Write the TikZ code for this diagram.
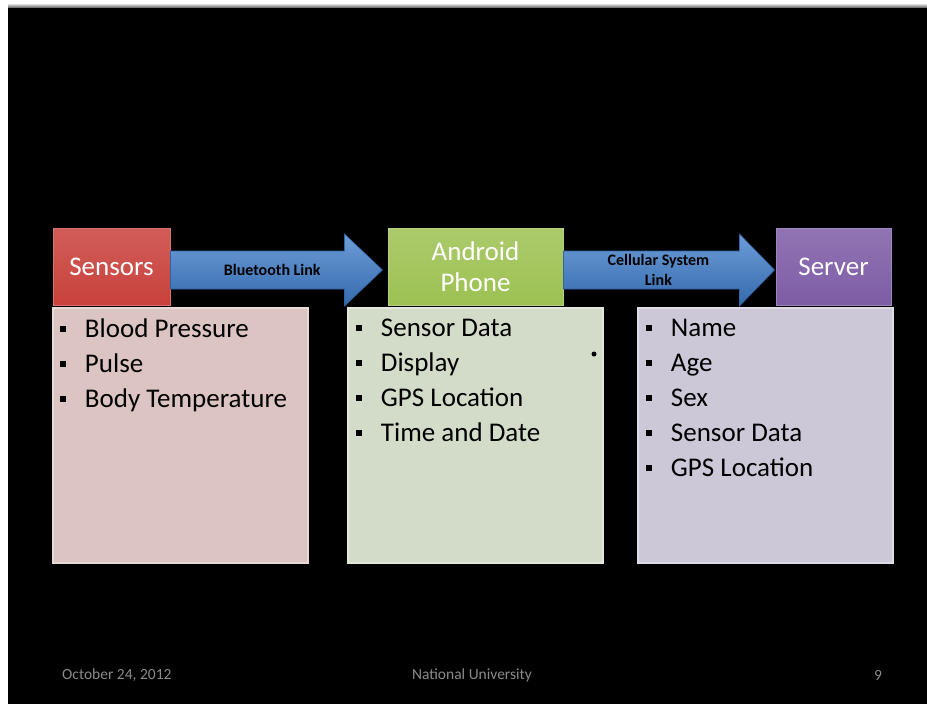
\documentclass[tikz,border=0pt]{standalone}
\usepackage{fontspec}
\setmainfont{Carlito}
\usepackage{xcolor}
\definecolor{SLIDEfoot}{HTML}{8A8A8A}
\definecolor{SLIDEred}{HTML}{C9413C}
\definecolor{SLIDEredbox}{HTML}{DCC4C2}
\definecolor{SLIDEgreen}{HTML}{9DC152}
\definecolor{SLIDEgreenbox}{HTML}{D3DCC8}
\definecolor{SLIDEpurple}{HTML}{7E5CA6}
\definecolor{SLIDEpurplebox}{HTML}{CCC8D8}
\definecolor{SLIDEblue}{HTML}{3D7CCB}
\usepackage{tikz}
\usetikzlibrary{calc, positioning}

\newcommand{\sqbul}{\rule[0.2em]{6pt}{6pt}\hspace{19pt}}

\begin{document}
\begin{tikzpicture}[x=1pt, y=-1pt,
  header/.style={minimum height=77pt, inner sep=0pt, align=center,
    text=white, font=\fontsize{27}{31}\selectfont,
    draw=#1!75!white, line width=1pt, top color=#1!85!white, bottom color=#1},
  listbox/.style={minimum width=255pt, minimum height=255pt, inner sep=0pt,
    fill=#1, draw=#1!65!white, line width=2.5pt},
  listtext/.style={anchor=north west, inner sep=0pt, align=left,
    font=\fontsize{27}{35}\selectfont},
  linkarrow/.style={top color=SLIDEblue!75!white, bottom color=SLIDEblue!85!black,
    draw=SLIDEblue!80!black, line width=0.6pt},
  linklabel/.style={inner sep=0pt, align=center,
    font=\fontsize{16}{20}\selectfont\bfseries},
  foot/.style={inner sep=0pt, text=SLIDEfoot, font=\fontsize{15.5}{17}\selectfont}]
% Slide background
\useasboundingbox (0,0) rectangle (927,704);
\fill[white] (0,0) rectangle (927,704);
\fill[black] (8,7) rectangle (927,704);
\shade[top color=gray!40, bottom color=gray!80!black] (8,4.5) rectangle (927,7.5);
% Headers
\node[header=SLIDEred, minimum width=117pt] (sensors) at (111.5,266.5) {Sensors};
\node[header=SLIDEgreen, minimum width=175pt] (android) at (475.5,266.5) {Android\\Phone};
\node[header=SLIDEpurple, minimum width=115pt] (server) at (833.5,266.5) {Server};
% Lists
\node[listbox=SLIDEredbox] (sensorsbox) at (180.5,435.5) {};
\node[listbox=SLIDEgreenbox] (androidbox) at (475.5,435.5) {};
\node[listbox=SLIDEpurplebox] (serverbox) at (765.5,435.5) {};
\node[listtext] (sensorslist) at ($(sensorsbox.north west)+(8,12)$)
  {\sqbul Blood Pressure\\\sqbul Pulse\\\sqbul Body Temperature};
\node[listtext] (androidlist) at ($(androidbox.north west)+(9,12)$)
  {\sqbul Sensor Data\\\sqbul Display\\\sqbul GPS Location\\\sqbul Time and Date};
\node[listtext] (serverlist) at ($(serverbox.north west)+(9,12)$)
  {\sqbul Name\\\sqbul Age\\\sqbul Sex\\\sqbul Sensor Data\\\sqbul GPS Location};
\fill[black] (594,354) circle (2.5);
% Block arrows
\coordinate (btstart) at ($(sensors.east)+(0,3.5)$);
\coordinate (bttip) at ($(android.west)+(-5,3.5)$);
\coordinate (cellstart) at ($(android.east)+(0,3.5)$);
\coordinate (celltip) at ($(server.west)+(-1,3.5)$);
\draw[linkarrow] ($(btstart)+(0,-19)$) -- ($(bttip)+(-38,-19)$) -- ($(bttip)+(-38,-36)$)
  -- (bttip) -- ($(bttip)+(-38,36)$) -- ($(bttip)+(-38,19)$) -- ($(btstart)+(0,19)$) -- cycle;
\draw[linkarrow] ($(cellstart)+(0,-19)$) -- ($(celltip)+(-35,-19)$) -- ($(celltip)+(-35,-36)$)
  -- (celltip) -- ($(celltip)+(-35,36)$) -- ($(celltip)+(-35,19)$) -- ($(cellstart)+(0,19)$) -- cycle;
\node[linklabel] (btlabel) at ($(btstart)!0.48!(bttip)$) {Bluetooth Link};
\node[linklabel] (celllabel) at ($(cellstart)!0.45!(celltip)$) {Cellular System\\Link};
% Footer
\node[foot, anchor=west] (date) at (62,675) {October 24, 2012};
\node[foot] (uni) at (472,675) {National University};
\node[foot] (page) at (878,675) {9};
\end{tikzpicture}
\end{document}
